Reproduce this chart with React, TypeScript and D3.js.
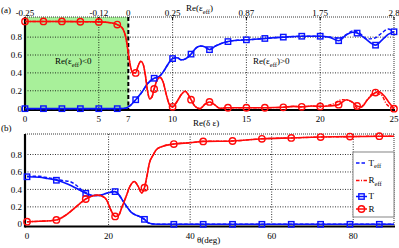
import * as d3 from 'd3';

// ---- panel (a): reflectance / transmittance vs Re(δε) ----
const reTicks = [0, 5, 7, 10, 15, 20, 25];
const reTopLabels = ['-0.25', '-0.12', '0', '0.25', '0.87', '1.75', '2.8'];
const yTicks = [0, 0.2, 0.4, 0.6, 0.8];
const yTickLabels = ['0', '0.2', '0.4', '0.6', '0.8'];

const markXA = [0, 1.25, 2.5, 3.75, 5, 6.25, 7.5, 8.75, 10, 11.25, 12.5, 13.75, 15, 16.25, 17.5, 18.75, 20, 21.25, 22.5, 23.75, 25];
const markRA = [0.975, 0.975, 0.975, 0.972, 0.97, 0.94, 0.4, 0.22, 0.02, 0.1, 0.075, 0.01, 0.01, 0.01, 0.015, 0.02, 0.025, 0.045, 0.03, 0.18, 0.0];
const markTA = [0, 0, 0, 0, 0, 0, 0.1, 0.34, 0.56, 0.61, 0.66, 0.75, 0.77, 0.785, 0.8, 0.81, 0.81, 0.76, 0.845, 0.71, 0.86];

const rA: [number, number][] = [
  [0, 0.975], [2, 0.975], [4, 0.972], [5, 0.97], [5.8, 0.96], [6.25, 0.94], [6.6, 0.9], [6.85, 0.78],
  [7.0, 0.62], [7.15, 0.47], [7.3, 0.4], [7.5, 0.4], [7.65, 0.47], [7.85, 0.53], [8.0, 0.5], [8.15, 0.38],
  [8.3, 0.2], [8.45, 0.11], [8.6, 0.13], [8.75, 0.22], [8.95, 0.32], [9.15, 0.35], [9.35, 0.3], [9.6, 0.14],
  [9.8, 0.04], [10, 0.02], [10.3, 0.08], [10.6, 0.16], [10.85, 0.195], [11.05, 0.16], [11.25, 0.1], [11.5, 0.03],
  [11.85, 0.0], [12.2, 0.05], [12.5, 0.075], [12.8, 0.05], [13.2, 0.005], [13.75, 0.01], [15, 0.01], [16.25, 0.01],
  [17.5, 0.015], [18.2, 0.025], [18.75, 0.02], [19.4, 0.03], [20, 0.025], [20.6, 0.03], [21.25, 0.045], [21.8, 0.1],
  [22.2, 0.07], [22.5, 0.03], [22.8, 0.02], [23.2, 0.1], [23.75, 0.18], [23.95, 0.19], [24.3, 0.15], [24.7, 0.06], [25, 0.0],
];
const rEffTailA: [number, number][] = [
  [20, 0.025], [20.8, 0.05], [21.5, 0.1], [22.1, 0.08], [22.6, 0.0], [23.1, 0.08], [23.6, 0.17], [24.1, 0.16], [24.5, 0.05], [25, 0.0],
];
const tA: [number, number][] = [
  [0, 0], [6.25, 0], [6.8, 0.005], [7.1, 0.03], [7.5, 0.1], [7.9, 0.18], [8.3, 0.28], [8.75, 0.34], [9.1, 0.36],
  [9.4, 0.42], [9.7, 0.5], [10, 0.56], [10.3, 0.57], [10.6, 0.545], [10.9, 0.56], [11.25, 0.61], [11.6, 0.68],
  [11.9, 0.7], [12.2, 0.69], [12.5, 0.66], [12.9, 0.7], [13.3, 0.73], [13.75, 0.75], [14.4, 0.765], [15, 0.77],
  [16.25, 0.785], [17.5, 0.8], [18.75, 0.81], [20, 0.81], [20.6, 0.8], [21.25, 0.76], [21.8, 0.83], [22.2, 0.855],
  [22.5, 0.845], [23.0, 0.79], [23.75, 0.71], [24.2, 0.77], [24.6, 0.83], [25, 0.86],
];
const tEffTailA: [number, number][] = [
  [20, 0.81], [20.7, 0.8], [21.3, 0.79], [21.8, 0.83], [22.2, 0.87], [22.7, 0.84], [23.2, 0.78], [23.7, 0.79], [24.2, 0.85], [24.6, 0.89], [25, 0.85],
];

// ---- panel (b): vs angle ----
const thetaTicks = [0, 20, 40, 60, 80];
const markXB = [0, 7.2, 14.4, 21.6, 28.8, 36, 43.2, 50.4, 57.6, 64.8, 72, 79.2, 86.4];
const markTB = [0.545, 0.505, 0.355, 0.375, 0.057, 0, 0, 0, 0, 0, 0, 0, 0];
const markRB = [0.03, 0.05, 0.29, 0.09, 0.42, 0.92, 0.95, 0.955, 0.98, 0.99, 1.0, 1.005, 1.01];

const tB: [number, number][] = [
  [0, 0.545], [3, 0.54], [5, 0.525], [7.2, 0.505], [9, 0.48], [11, 0.44], [13, 0.39], [14.4, 0.355], [16, 0.33],
  [17.7, 0.33], [19.5, 0.355], [21.6, 0.375], [22.5, 0.34], [23.5, 0.27], [24.5, 0.2], [25.5, 0.14], [27, 0.1],
  [28, 0.08], [28.8, 0.057], [29.6, 0.02], [31, 0.003], [33, 0], [90, 0],
];
const tEffB: [number, number][] = [
  [0, 0.55], [3, 0.55], [5, 0.535], [7.2, 0.515], [9, 0.5], [10.5, 0.49], [12, 0.45], [13.5, 0.39], [15, 0.35],
  [16, 0.33], [17.7, 0.33], [19.5, 0.355], [21.6, 0.375], [22.5, 0.34], [23.5, 0.27], [24.5, 0.2], [25.5, 0.14],
  [27, 0.1], [28, 0.08], [28.8, 0.057], [29.6, 0.02], [31, 0.003], [33, 0], [90, 0],
];
const rB: [number, number][] = [
  [0, 0.03], [3, 0.035], [7.2, 0.05], [9, 0.09], [11, 0.16], [13, 0.24], [14.4, 0.29], [16, 0.325], [17.3, 0.335],
  [18.5, 0.32], [19.5, 0.28], [20.5, 0.17], [21.6, 0.09], [22.4, 0.1], [23.3, 0.2], [24.3, 0.32], [25.3, 0.44],
  [26.3, 0.49], [27.2, 0.44], [28.1, 0.36], [28.8, 0.42], [29.4, 0.55], [30, 0.7], [31, 0.8], [31.6, 0.85],
  [33, 0.89], [36, 0.92], [40, 0.935], [43.2, 0.95], [50.4, 0.955], [57.6, 0.98], [64.8, 0.99], [72, 1.0],
  [79.2, 1.005], [86.4, 1.01], [90, 1.01],
];

const BLUE = '#0a14ff';
const RED = '#ff0a0a';
const GREEN = '#a8f09a';
const FONT = '"Liberation Serif", "DejaVu Serif", serif';

const xA = d3.scaleLinear().domain([0, 25]).range([25, 394]);
const yA = d3.scaleLinear().domain([-0.015, 1.025]).range([110, 17]);
const xB = d3.scaleLinear().domain([-0.5, 90]).range([25, 394]);
const yB = d3.scaleLinear().domain([-0.025, 1.035]).range([226.5, 134]);

const GRID = { stroke: '#000', strokeWidth: 0.8, strokeDasharray: '1,1.5' };

function Square({ x, y }: { x: number; y: number }) {
  return <rect x={x - 2.7} y={y - 2.7} width={5.4} height={5.4} fill="none" stroke={BLUE} strokeWidth={1.4} />;
}
function Circle({ x, y }: { x: number; y: number }) {
  return <circle cx={x} cy={y} r={3.2} fill="none" stroke={RED} strokeWidth={1.4} />;
}

function Frame({ x, y }: { x: d3.ScaleLinear<number, number>; y: d3.ScaleLinear<number, number> }) {
  const [x0, x1] = x.range();
  const [y0, y1] = y.range();
  return (
    <g>
      <line x1={x0} x2={x1} y1={y1} y2={y1} stroke="#222" strokeWidth={0.9} strokeDasharray="1,1" />
      <line x1={x1} x2={x1} y1={y1} y2={y0} stroke="#222" strokeWidth={0.9} strokeDasharray="1,1" />
      <line x1={x0} x2={x1 + 1} y1={y0} y2={y0} stroke="#000" strokeWidth={2.2} />
      <line x1={x0} x2={x0} y1={y1} y2={y0 + 1} stroke="#000" strokeWidth={2.2} />
    </g>
  );
}

export default function App() {
  const lineA = d3.line<[number, number]>().x((d) => xA(d[0])).y((d) => yA(d[1])).curve(d3.curveMonotoneX);
  const lineB = d3.line<[number, number]>().x((d) => xB(d[0])).y((d) => yB(d[1])).curve(d3.curveMonotoneX);
  const rEffA = [...rA.filter((p) => p[0] < 20), ...rEffTailA];
  const tEffA = [...tA.filter((p) => p[0] < 20), ...tEffTailA];

  const [ax0, ax1] = xA.range();
  const [ay0, ay1] = yA.range();
  const [bx0, bx1] = xB.range();
  const [by0, by1] = yB.range();

  const legend = [
    { label: 'T', sub: 'eff', color: BLUE, dash: '3.5,2', marker: null as null | 'sq' | 'ci' },
    { label: 'R', sub: 'eff', color: RED, dash: '3.5,1.5,1,1.5', marker: null },
    { label: 'T', sub: '', color: BLUE, dash: '', marker: 'sq' as const },
    { label: 'R', sub: '', color: RED, dash: '', marker: 'ci' as const },
  ];
  const legendY = [163, 180.5, 196.5, 209];

  return (
    <svg width={399} height={248} style={{ position: 'absolute', left: 0, top: 0, background: '#fff' }} fontFamily={FONT} fontSize={9}>
      {/* ---------- panel (a) ---------- */}
      <rect x={xA(0)} y={ay1} width={xA(7) - xA(0)} height={ay0 - ay1} fill={GREEN} />
      {yTicks.slice(1).map((t) => (
        <line key={t} x1={ax0} x2={ax1} y1={yA(t)} y2={yA(t)} {...GRID} />
      ))}
      {[5, 10, 15, 20].map((t) => (
        <line key={t} x1={xA(t)} x2={xA(t)} y1={ay1} y2={ay0} {...GRID} />
      ))}
      {reTicks.map((t) => (
        <line key={t} x1={xA(t)} x2={xA(t)} y1={ay1} y2={ay1 + 3} stroke="#000" strokeWidth={1} />
      ))}
      <line x1={xA(7)} x2={xA(7)} y1={ay1} y2={ay0} stroke="#000" strokeWidth={2} strokeDasharray="4,2.5" />
      <Frame x={xA} y={yA} />

      <path d={lineA(tEffA) ?? ''} fill="none" stroke={BLUE} strokeWidth={1.4} strokeDasharray="3.5,2" />
      <path d={lineA(rEffA) ?? ''} fill="none" stroke={RED} strokeWidth={1.4} strokeDasharray="3.5,1.5,1,1.5" />
      <path d={lineA(tA) ?? ''} fill="none" stroke={BLUE} strokeWidth={1.6} />
      <path d={lineA(rA) ?? ''} fill="none" stroke={RED} strokeWidth={1.6} />
      {markXA.map((x, i) => <Square key={'ta' + i} x={xA(x)} y={yA(markTA[i])} />)}
      {markXA.map((x, i) => <Circle key={'ra' + i} x={xA(x)} y={yA(markRA[i])} />)}

      {yTicks.map((t, i) => (
        <text key={t} x={22} y={yA(t)} dy="0.35em" textAnchor="end">{yTickLabels[i]}</text>
      ))}
      {reTicks.map((t) => (
        <text key={t} x={xA(t)} y={122} textAnchor="middle">{t}</text>
      ))}
      {reTicks.map((t, i) => (
        <text key={t} x={xA(t)} y={16} textAnchor="middle">{reTopLabels[i]}</text>
      ))}
      <text x={1} y={13}>(a)</text>
      <text x={186} y={11}>Re(ε<tspan fontSize={6.5} dy={2.5}>eff</tspan><tspan dy={-2.5}>)</tspan></text>
      <text x={193} y={126}>Re(δ ε)</text>
      <text x={55} y={64}>Re(ε<tspan fontSize={6.5} dy={3}>eff</tspan><tspan dy={-3}>)&lt;0</tspan></text>
      <text x={253} y={64} fill="#000">Re(ε<tspan fontSize={6.5} dy={3}>eff</tspan><tspan dy={-3}>)&gt;0</tspan></text>

      {/* ---------- panel (b) ---------- */}
      {yTicks.slice(1).map((t) => (
        <line key={t} x1={bx0} x2={bx1} y1={yB(t)} y2={yB(t)} {...GRID} />
      ))}
      {thetaTicks.slice(1).map((t) => (
        <line key={t} x1={xB(t)} x2={xB(t)} y1={by1} y2={by0} {...GRID} />
      ))}
      <Frame x={xB} y={yB} />

      <path d={lineB(tEffB) ?? ''} fill="none" stroke={BLUE} strokeWidth={1.4} strokeDasharray="3.5,2" />
      <path d={lineB(rB) ?? ''} fill="none" stroke={RED} strokeWidth={1.4} strokeDasharray="3.5,1.5,1,1.5" />
      <path d={lineB(tB) ?? ''} fill="none" stroke={BLUE} strokeWidth={1.6} />
      <path d={lineB(rB) ?? ''} fill="none" stroke={RED} strokeWidth={1.6} />
      {markXB.map((x, i) => <Square key={'tb' + i} x={xB(x)} y={yB(markTB[i])} />)}
      {markXB.map((x, i) => <Circle key={'rb' + i} x={xB(x)} y={yB(markRB[i])} />)}

      {yTicks.map((t, i) => (
        <text key={t} x={22} y={yB(t)} dy="0.35em" textAnchor="end">{yTickLabels[i]}</text>
      ))}
      {thetaTicks.map((t) => (
        <text key={t} x={xB(t)} y={239} textAnchor="middle">{t}</text>
      ))}
      <text x={1} y={131}>(b)</text>
      <text x={197} y={243}>θ(deg)</text>

      {/* legend */}
      <rect x={353} y={152} width={41} height={65} fill="#fff" stroke="#666" strokeWidth={0.8} />
      {legend.map((l, i) => (
        <g key={i}>
          <line x1={356} x2={367} y1={legendY[i]} y2={legendY[i]} stroke={l.color} strokeWidth={1.5} strokeDasharray={l.dash || undefined} />
          {l.marker === 'sq' && <Square x={361.5} y={legendY[i]} />}
          {l.marker === 'ci' && <Circle x={361.5} y={legendY[i]} />}
          <text x={368.5} y={legendY[i]} dy="0.33em">
            {l.label}
            {l.sub && <tspan fontSize={6.5} dy={2.5}>{l.sub}</tspan>}
          </text>
        </g>
      ))}
    </svg>
  );
}
